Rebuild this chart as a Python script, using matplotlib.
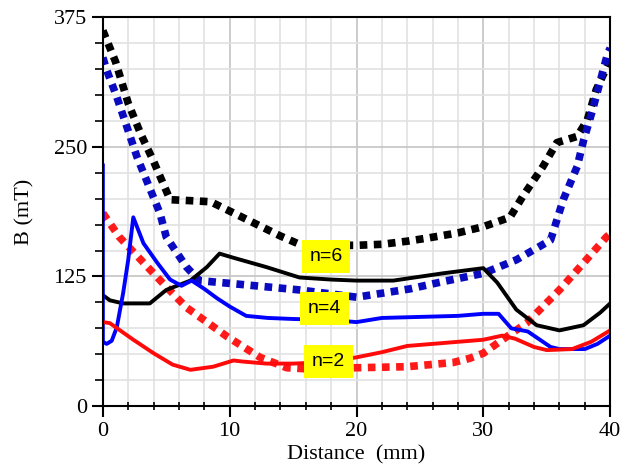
import numpy as np
import matplotlib.pyplot as plt
from matplotlib.ticker import MultipleLocator

# n=6
x6_dot = [0, 1, 2, 3, 4, 5.3, 7, 8.5, 10, 12, 14, 15.5, 18, 20, 22, 24, 25.6, 28, 30, 32.1, 33.1, 34.7, 35.8, 37.4, 38.2, 38.9, 39.9, 40]
y6_dot = [362, 332, 292, 262, 236, 199, 198, 197, 188, 176, 164, 156, 155, 155, 156, 159, 162, 167, 173, 182, 202, 231, 254, 260, 276, 305, 331, 340]
x6 = [0, 0.55, 1.6, 3.7, 5, 6.9, 8.2, 9.2, 10.3, 12.9, 15.5, 18, 20, 22.9, 26.8, 30, 31.1, 32.6, 34.2, 36, 37.9, 39.2, 40]
y6 = [107, 102, 99, 99, 112, 121, 134, 147, 143, 134, 124, 122, 121, 121, 128, 133, 119, 93, 78, 73, 78, 90, 99]

# n=4
x4_dot = [0, 0.3, 1.1, 1.9, 2.7, 3.5, 4.5, 5.0, 6.6, 7.6, 10.3, 15.5, 20, 24.2, 26.8, 30, 32.6, 35.3, 36.3, 37.4, 37.9, 38.6, 39.8, 40]
y4_dot = [336, 324, 298, 269, 240, 216, 186, 163, 134, 121, 118, 112, 105, 113, 120, 128, 141, 160, 199, 231, 256, 285, 340, 345]
x4 = [0, 0, 0.3, 0.7, 1.1, 1.6, 2.0, 2.4, 3.2, 4.3, 5.3, 6.2, 7.0, 8, 9, 10, 11.3, 13, 15, 18, 20, 22, 25, 28, 30, 31.2, 32.2, 33.5, 35.3, 36, 38, 39, 40]
y4 = [232, 62, 60, 63, 76, 109, 141, 182, 157, 138, 122, 116, 121, 113, 104, 96, 87, 85, 84, 83, 81, 85, 86, 87, 89, 89, 75, 72, 57, 55, 55, 60, 68]

# n=2
x2_dot = [0, 1.3, 5.0, 6.6, 9.8, 12.4, 14.5, 16, 20, 24, 27.6, 28.9, 30, 31.5, 33.4, 36, 37.9, 39.7, 40]
y2_dot = [186, 163, 115, 95, 67, 47, 37, 36, 37, 38, 42, 46, 51, 64, 80, 112, 138, 163, 166]
x2 = [0, 0.55, 2.4, 4, 5.5, 6.9, 8.7, 10.3, 11, 12.9, 15, 17, 20, 22, 24, 26, 28, 30, 31.5, 32.5, 34, 35, 37, 38.5, 40]
y2 = [81, 80, 64, 51, 40, 35, 38, 44, 43, 41, 41, 42, 47, 52, 58, 60, 62, 64, 68, 65, 57, 54, 55, 62, 73]

labels = ['n=6', 'n=4', 'n=2']
label_x = [17.6, 17.5, 17.8]
label_y = [144, 94, 43]

fig = plt.figure(figsize=(6.31, 4.75), dpi=100)
ax = fig.add_axes([0.163, 0.145, 0.804, 0.819])

dots = (0, (1, 0.85))
ax.plot(x6_dot, y6_dot, color='black', lw=5.5, ls=dots)
ax.plot(x4_dot, y4_dot, color='#0a0ac0', lw=5.5, ls=dots)
ax.plot(x2_dot, y2_dot, color='#ff1a1a', lw=5.5, ls=dots)
ax.plot(x6, y6, color='black', lw=2.8)
ax.plot(x4, y4, color='#0000ff', lw=2.8)
ax.plot(x2, y2, color='#ff0a0a', lw=2.8)

for t, lx, ly in zip(labels, label_x, label_y):
    ax.text(lx, ly, t, ha='center', va='center', fontsize=14, family='Liberation Sans',
            bbox=dict(boxstyle='square,pad=0.4', fc='#ffff00', ec='none'), zorder=5)

ax.set_xlim(0, 40)
ax.set_ylim(0, 375)
ax.xaxis.set_major_locator(MultipleLocator(10))
ax.xaxis.set_minor_locator(MultipleLocator(2))
ax.yaxis.set_major_locator(MultipleLocator(125))
ax.yaxis.set_minor_locator(MultipleLocator(25))
ax.grid(which='minor', color='#e2e2e2', lw=1.2)
ax.grid(which='major', color='#c4c4c4', lw=1.2)
ax.set_axisbelow(True)
ax.tick_params(which='major', direction='out', length=8, width=1.5, labelsize=16)
ax.tick_params(axis='y', which='minor', direction='out', length=6, width=1.2)
ax.tick_params(axis='x', which='minor', direction='inout', length=6, width=1.2)
for lbl in ax.get_xticklabels() + ax.get_yticklabels():
    lbl.set_family('Liberation Serif')
for s in ax.spines.values():
    s.set_linewidth(1.5)

ax.set_xlabel('Distance  (mm)', family='Liberation Serif', fontsize=16, labelpad=3)
ax.set_ylabel('B (mT)', family='Liberation Serif', fontsize=16, labelpad=14)

fig.savefig('out.png', dpi=100)
